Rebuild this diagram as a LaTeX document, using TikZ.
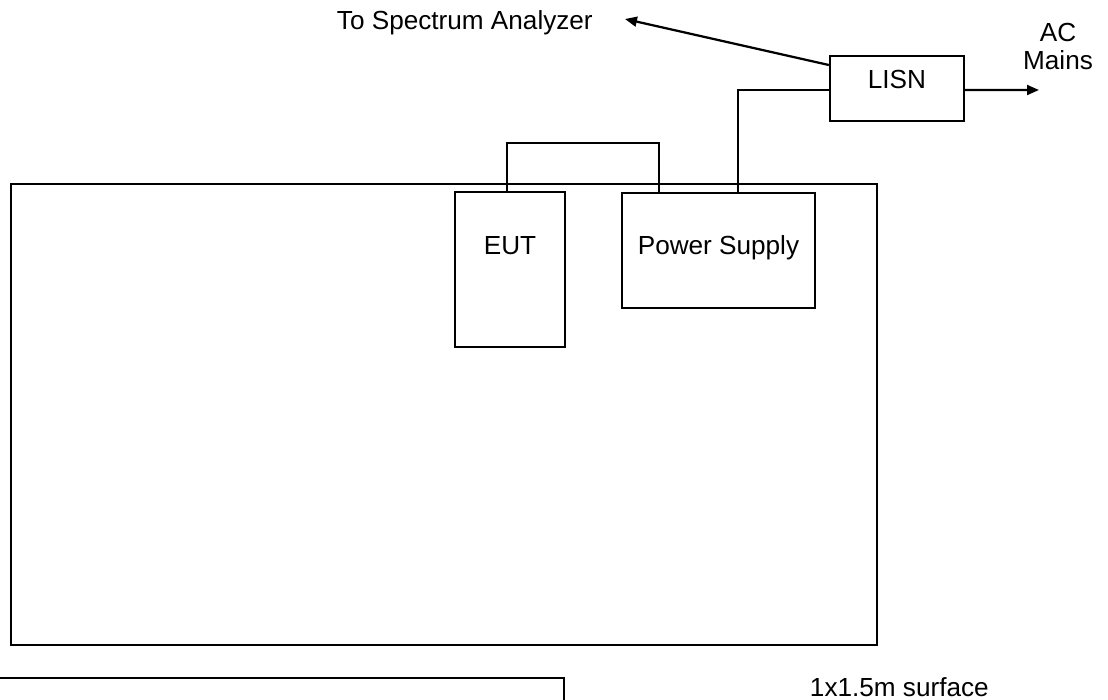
\documentclass[tikz,border=0pt]{standalone}
\usepackage{fontspec}
\setmainfont{Liberation Sans}
\usetikzlibrary{arrows.meta,calc,positioning}
\begin{document}
\begin{tikzpicture}[font=\fontsize{18.6}{20.2}\selectfont,
  box/.style={draw,line width=1.7pt,inner sep=0pt},
  wire/.style={line width=1.6pt},
  tip/.style={-{Triangle[length=8.5pt,width=7pt]}}]
\useasboundingbox (0,0) rectangle (27.7,-17.5);
\clip (0,0) rectangle (27.7,-17.5);
\node[box,line width=2pt,minimum width=21.65cm,minimum height=11.525cm] (table) at (11.1,-10.3625) {};
\node[box,minimum width=2.75cm,minimum height=3.875cm] (eut) at (12.75,-6.7375) {};
\node[anchor=base] (euttxt) at ([yshift=-1.6cm]eut.north) {EUT};
\node[box,minimum width=4.825cm,minimum height=2.875cm] (psu) at (17.9625,-6.2625) {};
\node[anchor=base] (psutxt) at ([yshift=-1.575cm]psu.north) {Power Supply};
\node[box,minimum width=3.35cm,minimum height=1.625cm] (lisn) at (22.425,-2.2125) {};
\node[anchor=base] (lisntxt) at ([yshift=-0.85cm]lisn.north) {LISN};
\node[anchor=base west] (spec) at (8.3,-0.75) {To Spectrum Analyzer};
\node[align=center,anchor=north] (mains) at (26.45,-0.45) {AC\\Mains};
\coordinate (sa) at (15.625,-0.475);
\coordinate (ac) at (25.975,-2.25);
% cables
\draw[wire] ([xshift=-0.08cm]eut.north) -- ++(0,1.2) -| ([xshift=0.95cm]psu.north west);
\draw[wire] ([xshift=2.925cm]psu.north west) |- ([yshift=-0.0375cm]lisn.west);
\draw[wire,tip] ([yshift=-0.0375cm]lisn.east) -- (ac);
\draw[wire,tip] ([yshift=0.5875cm]lisn.west) -- (sa);
\draw[line width=1.7pt] (-0.5,-16.95) rectangle (14.1,-18.5);
\node[anchor=base west] (surf) at (20.125,-17.4) {1x1.5m surface};
\end{tikzpicture}
\end{document}
